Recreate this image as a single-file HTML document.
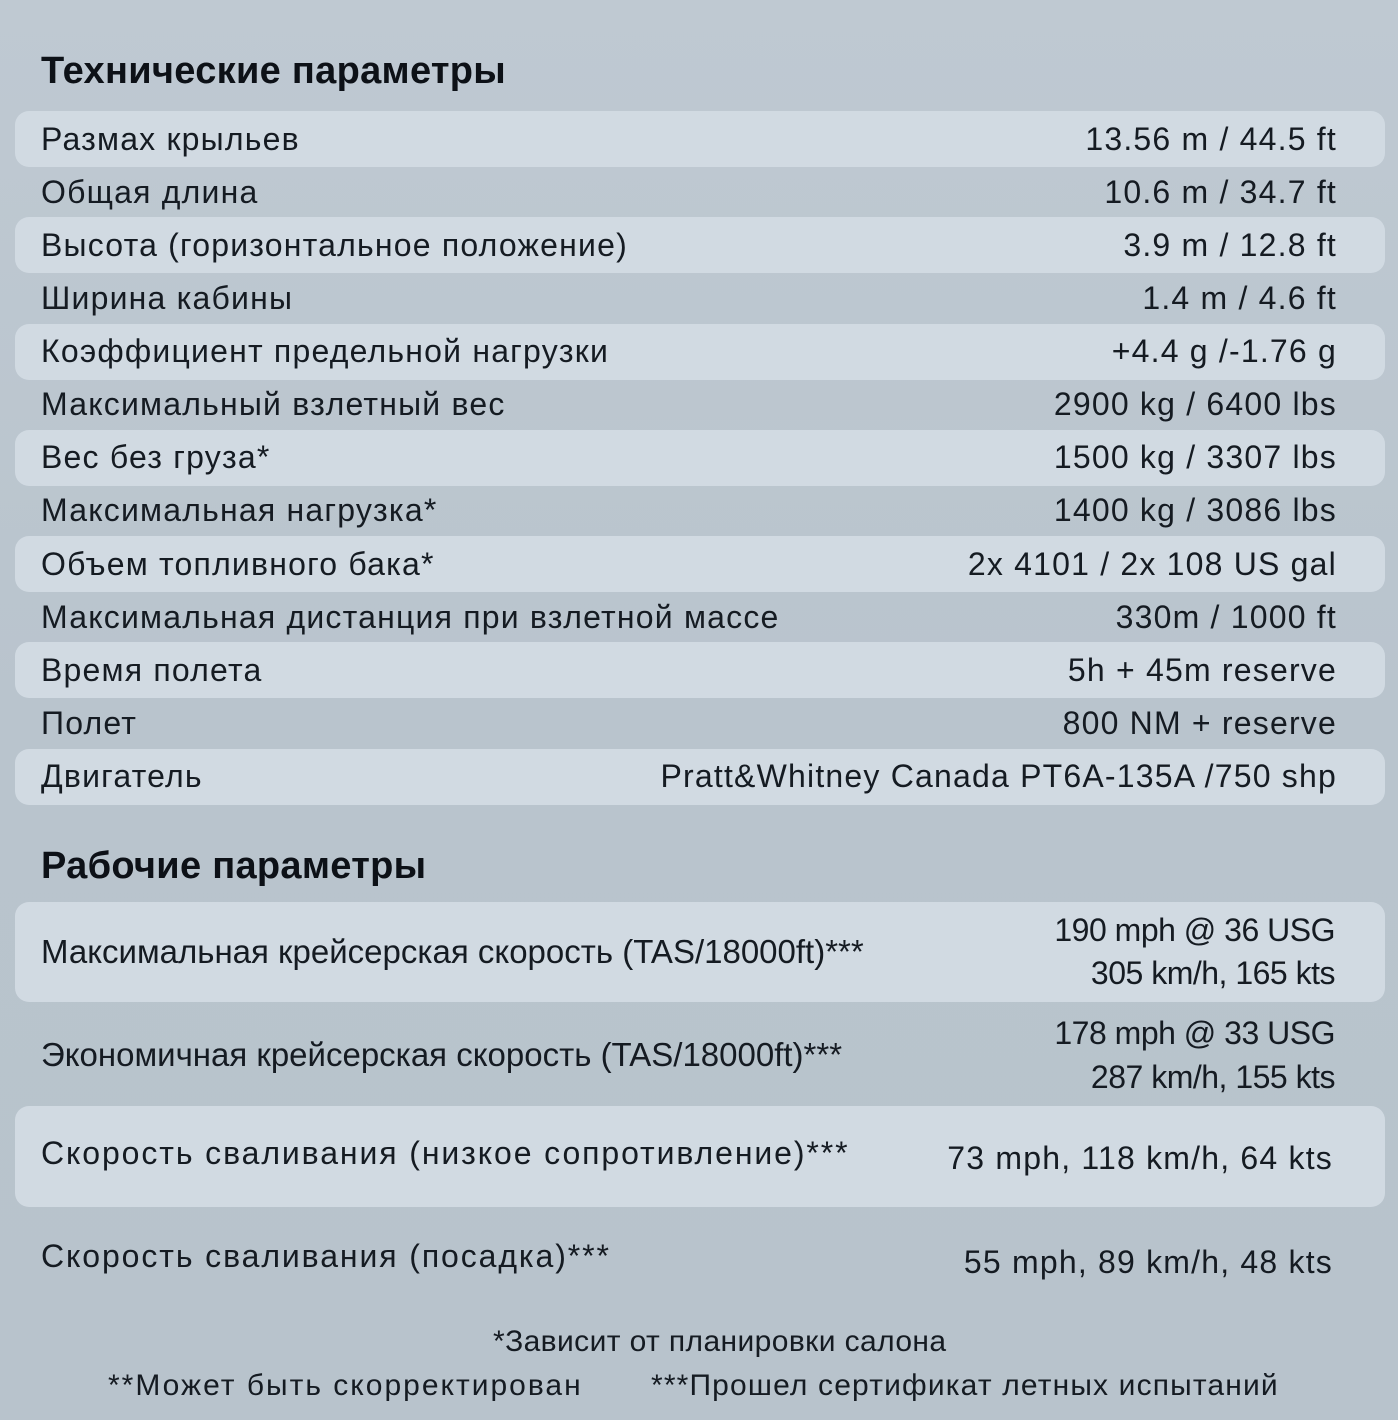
<!DOCTYPE html>
<html><head><meta charset="utf-8"><style>
*{margin:0;padding:0;box-sizing:border-box}
html,body{width:1398px;height:1420px;overflow:hidden}
body{background:linear-gradient(180deg,#bfc9d2 0%,#b9c4cd 50%,#b8c3cc 100%);font-family:"Liberation Sans","DejaVu Sans",sans-serif;color:#151b22;position:relative}
.band{position:absolute;left:15px;width:1370px;background:#d1dae2;border-radius:14px}
.t{position:absolute;white-space:nowrap;font-size:32px;letter-spacing:1.2px;height:56px;line-height:56px}
.l{left:41px}
.r{right:61px;text-align:right}
.h{position:absolute;left:41px;font-weight:bold;font-size:38px;white-space:nowrap;line-height:50px;letter-spacing:0.3px;color:#0d1117}
.c{letter-spacing:0px;font-size:33px}
.cv{letter-spacing:-0.5px;font-size:32px}
.w{letter-spacing:1.9px}
.f{position:absolute;white-space:nowrap;font-size:30px;line-height:40px}
</style></head><body>
<div class="h" style="top:46px">Технические параметры</div>

<div class="band" style="top:111px;height:56px"></div>
<div class="band" style="top:217px;height:56px"></div>
<div class="band" style="top:324px;height:56px"></div>
<div class="band" style="top:430px;height:56px"></div>
<div class="band" style="top:536px;height:56px"></div>
<div class="band" style="top:642px;height:56px"></div>
<div class="band" style="top:749px;height:56px"></div>

<div class="t l" style="top:111px">Размах крыльев</div><div class="t r" style="top:111px">13.56 m / 44.5 ft</div>
<div class="t l" style="top:164px">Общая длина</div><div class="t r" style="top:164px">10.6 m / 34.7 ft</div>
<div class="t l" style="top:217px">Высота (горизонтальное положение)</div><div class="t r" style="top:217px">3.9 m / 12.8 ft</div>
<div class="t l" style="top:270px">Ширина кабины</div><div class="t r" style="top:270px">1.4 m / 4.6 ft</div>
<div class="t l" style="top:323px">Коэффициент предельной нагрузки</div><div class="t r" style="top:323px">+4.4 g /-1.76 g</div>
<div class="t l" style="top:376px">Максимальный взлетный вес</div><div class="t r" style="top:376px">2900 kg / 6400 lbs</div>
<div class="t l" style="top:429px">Вес без груза*</div><div class="t r" style="top:429px">1500 kg / 3307 lbs</div>
<div class="t l" style="top:482px">Максимальная нагрузка*</div><div class="t r" style="top:482px">1400 kg / 3086 lbs</div>
<div class="t l" style="top:536px">Объем топливного бака*</div><div class="t r" style="top:536px">2x 4101 / 2x 108 US gal</div>
<div class="t l" style="top:589px">Максимальная дистанция при взлетной массе</div><div class="t r" style="top:589px">330m / 1000 ft</div>
<div class="t l" style="top:642px">Время полета</div><div class="t r" style="top:642px">5h + 45m reserve</div>
<div class="t l" style="top:695px">Полет</div><div class="t r" style="top:695px">800 NM + reserve</div>
<div class="t l" style="top:748px">Двигатель</div><div class="t r" style="top:748px">Pratt&amp;Whitney Canada PT6A-135A /750 shp</div>

<div class="h" style="top:841px">Рабочие параметры</div>

<div class="band" style="top:902px;height:100px"></div>
<div class="band" style="top:1106px;height:101px"></div>

<div class="t l c" style="top:924px">Максимальная крейсерская скорость (TAS/18000ft)***</div>
<div class="t r cv" style="top:902px;right:63px">190 mph @ 36 USG</div>
<div class="t r cv" style="top:945px;right:63px">305 km/h, 165 kts</div>

<div class="t l c" style="top:1027px">Экономичная крейсерская скорость (TAS/18000ft)***</div>
<div class="t r cv" style="top:1005px;right:63px">178 mph @ 33 USG</div>
<div class="t r cv" style="top:1049px;right:63px">287 km/h, 155 kts</div>

<div class="t l w" style="top:1125px">Скорость сваливания (низкое сопротивление)***</div>
<div class="t r" style="top:1130px;right:65px">73 mph, 118 km/h, 64 kts</div>

<div class="t l w" style="top:1228px">Скорость сваливания (посадка)***</div>
<div class="t r" style="top:1234px;right:65px">55 mph, 89 km/h, 48 kts</div>

<div class="f" style="top:1322px;left:493px;letter-spacing:0.4px">*Зависит от планировки салона</div>
<div class="f" style="top:1366px;left:108px;letter-spacing:2px">**Может быть скорректирован</div>
<div class="f" style="top:1366px;left:651px;letter-spacing:1.15px">***Прошел сертификат летных испытаний</div>
</body></html>
